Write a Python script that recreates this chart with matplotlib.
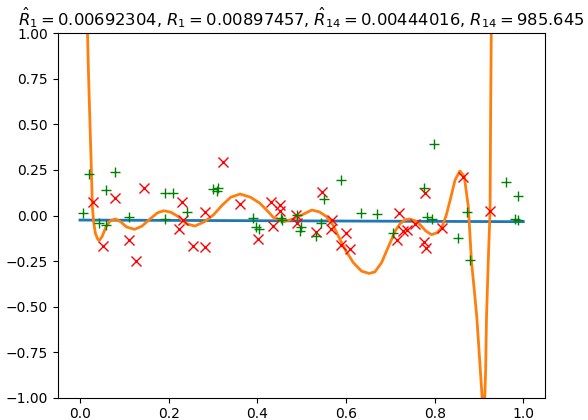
import numpy as np
import matplotlib
matplotlib.use("Agg")
import matplotlib.pyplot as plt

# training points (red x)
x_train = [0.029, 0.080, 0.144, 0.053, 0.111, 0.126, 0.230, 0.223, 0.232,
           0.323, 0.282, 0.361, 0.256, 0.283, 0.431, 0.451, 0.451, 0.435, 0.401, 0.487, 0.489,
           0.545, 0.532, 0.566, 0.568, 0.600, 0.589, 0.608, 0.720, 0.714, 0.728, 0.738, 0.756,
           0.778, 0.776, 0.781, 0.816, 0.865, 0.925]
y_train = [0.073, 0.094, 0.149, -0.166, -0.134, -0.248, 0.076, -0.076, -0.025,
           0.295, 0.021, 0.061, -0.166, -0.171, 0.076, 0.058, 0.025, -0.058, -0.131, 0.003, -0.043,
           0.127, -0.089, -0.076, -0.025, -0.098, -0.162, -0.184, 0.012, -0.134, -0.085, -0.080, -0.047,
           0.122, -0.144, -0.180, -0.067, 0.213, 0.027]

# test points (green +)
x_test = [0.020, 0.080, 0.059, 0.006, 0.044, 0.058, 0.110, 0.191, 0.210, 0.191,
          0.241, 0.299, 0.312, 0.310, 0.390, 0.397, 0.403, 0.453, 0.455, 0.489, 0.498, 0.496,
          0.588, 0.551, 0.543, 0.532, 0.633, 0.671, 0.707,
          0.799, 0.775, 0.782, 0.793, 0.852, 0.872, 0.880, 0.960, 0.987, 0.981, 0.987]
y_test = [0.226, 0.237, 0.138, 0.015, -0.043, -0.050, -0.010, 0.122, 0.125, -0.017,
          0.021, 0.144, 0.149, 0.134, -0.012, -0.061, -0.076, -0.015, -0.025, 0.003, -0.065, -0.083,
          0.195, 0.091, -0.039, -0.113, 0.015, 0.008, -0.094,
          0.391, 0.149, -0.010, -0.021, -0.122, 0.017, -0.244, 0.182, 0.107, -0.021, -0.025]

# degree-1 fit (blue)
x_lin = [0.0, 1.0]
y_lin = [-0.025, -0.034]

# degree-14 fit (orange)
x_poly = [0.0165, 0.019, 0.022, 0.025, 0.028, 0.031, 0.035, 0.040, 0.044, 0.050,
          0.059, 0.068, 0.080, 0.092, 0.105, 0.123, 0.140, 0.157, 0.175, 0.189,
          0.205, 0.221, 0.240, 0.259, 0.280, 0.301, 0.320, 0.340, 0.361, 0.385,
          0.406, 0.425, 0.436, 0.459, 0.480, 0.508, 0.523, 0.540, 0.556, 0.570,
          0.587, 0.600, 0.617, 0.635, 0.652, 0.665, 0.680, 0.699, 0.711, 0.722,
          0.733, 0.743, 0.755, 0.767, 0.780, 0.793, 0.805, 0.816, 0.826, 0.835,
          0.846, 0.857, 0.867, 0.872, 0.876, 0.883, 0.889, 0.895, 0.905, 0.911,
          0.915, 0.917, 0.921, 0.925, 0.926, 0.928]
y_poly = [1.05, 0.80, 0.55, 0.31, 0.05, -0.04, -0.10, -0.130, -0.136, -0.115,
          -0.061, -0.030, -0.019, -0.035, -0.063, -0.076, -0.058, -0.021, 0.015, 0.026,
          0.018, -0.005, -0.045, -0.058, -0.035, 0.003, 0.055, 0.100, 0.118, 0.100,
          0.067, 0.020, -0.010, -0.034, -0.020, 0.012, 0.030, 0.020, -0.006, -0.050,
          -0.134, -0.195, -0.260, -0.305, -0.318, -0.310, -0.260, -0.153, -0.085, -0.045,
          -0.024, -0.019, -0.028, -0.050, -0.085, -0.105, -0.095, -0.067, 0.000, 0.085,
          0.195, 0.244, 0.213, 0.12, 0.048, -0.25, -0.40, -0.555, -0.92, -1.15,
          -0.85, -0.555, -0.244, 0.026, 0.47, 1.10]

title = (r'$\hat{R}_1 = 0.00692304$, $R_1 = 0.00897457$, '
         r'$\hat{R}_{14} = 0.00444016$, $R_{14} = 985.645$')

fig = plt.figure(figsize=(5.88, 4.2), dpi=100)
ax = fig.add_axes([0.0983, 0.0531, 0.8294, 0.8676])
ax.plot(x_lin, y_lin, color='C0', lw=2)
ax.plot(x_poly, y_poly, color='C1', lw=2)
ax.plot(x_train, y_train, 'rx', ms=6.5)
ax.plot(x_test, y_test, 'g+', ms=6.5)
ax.set_xlim(-0.05, 1.05)
ax.set_ylim(-1, 1)
ax.set_xticks([0.0, 0.2, 0.4, 0.6, 0.8, 1.0])
ax.set_yticks([-1.0, -0.75, -0.5, -0.25, 0.0, 0.25, 0.5, 0.75, 1.0])
ax.set_title(title, fontsize=11.8)
fig.savefig('out.png', dpi=100)
